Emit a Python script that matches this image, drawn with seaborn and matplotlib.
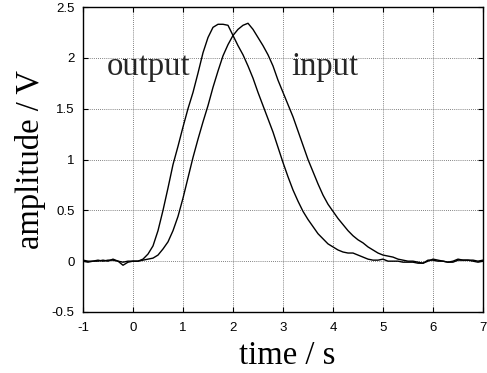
import numpy as np
import pandas as pd
import matplotlib
matplotlib.use("Agg")
import matplotlib.pyplot as plt
import seaborn as sns

time_s = [-1.0, -0.9, -0.8, -0.7, -0.6, -0.5, -0.4, -0.3, -0.2, -0.1,
          0.0, 0.1, 0.2, 0.3, 0.4, 0.5, 0.6, 0.7, 0.8, 0.9,
          1.0, 1.1, 1.2, 1.3, 1.4, 1.5, 1.6, 1.7, 1.8, 1.9,
          2.0, 2.1, 2.2, 2.3, 2.4, 2.5, 2.6, 2.7, 2.8, 2.9,
          3.0, 3.1, 3.2, 3.3, 3.4, 3.5, 3.6, 3.7, 3.8, 3.9,
          4.0, 4.1, 4.2, 4.3, 4.4, 4.5, 4.6, 4.7, 4.8, 4.9,
          5.0, 5.1, 5.2, 5.3, 5.4, 5.5, 5.6, 5.7, 5.8, 5.9,
          6.0, 6.1, 6.2, 6.3, 6.4, 6.5, 6.6, 6.7, 6.8, 6.9, 7.0]

output_v = [0.00, -0.01, 0.00, 0.01, 0.00, 0.01, 0.01, 0.00, -0.01, 0.00,
            0.00, 0.00, 0.02, 0.07, 0.15, 0.30, 0.50, 0.72, 0.95, 1.13,
            1.32, 1.50, 1.66, 1.85, 2.05, 2.20, 2.30, 2.33, 2.33, 2.32,
            2.22, 2.12, 2.03, 1.92, 1.80, 1.66, 1.53, 1.40, 1.27, 1.12,
            0.97, 0.83, 0.70, 0.59, 0.49, 0.41, 0.34, 0.27, 0.22, 0.17,
            0.14, 0.11, 0.09, 0.08, 0.08, 0.06, 0.04, 0.02, 0.01, 0.01,
            0.02, 0.00, 0.00, 0.00, -0.01, -0.01, -0.01, -0.02, -0.02, 0.01,
            0.01, 0.00, 0.00, -0.01, -0.01, 0.01, 0.01, 0.01, 0.00, -0.01, 0.00]

input_v = [0.01, 0.00, 0.00, 0.00, 0.01, 0.00, 0.02, 0.00, -0.04, -0.01,
           0.00, 0.00, 0.01, 0.02, 0.03, 0.06, 0.12, 0.19, 0.30, 0.44,
           0.62, 0.82, 1.02, 1.20, 1.37, 1.53, 1.71, 1.87, 2.02, 2.13,
           2.22, 2.28, 2.32, 2.34, 2.28, 2.20, 2.12, 2.03, 1.92, 1.78,
           1.66, 1.54, 1.42, 1.28, 1.14, 1.00, 0.88, 0.76, 0.65, 0.56,
           0.49, 0.42, 0.36, 0.30, 0.25, 0.21, 0.18, 0.14, 0.11, 0.08,
           0.06, 0.05, 0.04, 0.02, 0.01, 0.00, 0.00, -0.01, -0.02, 0.00,
           0.02, 0.01, 0.00, -0.01, 0.00, 0.02, 0.01, 0.01, 0.01, 0.00, 0.01]

x_ticks = [-1, 0, 1, 2, 3, 4, 5, 6, 7]
x_tick_labels = ["-1", "0", "1", "2", "3", "4", "5", "6", "7"]
y_ticks = [-0.5, 0, 0.5, 1, 1.5, 2, 2.5]
y_tick_labels = ["-0.5", "0", "0.5", "1", "1.5", "2", "2.5"]

df = pd.DataFrame({
    "time": time_s * 2,
    "amplitude": output_v + input_v,
    "signal": ["output"] * len(output_v) + ["input"] * len(input_v),
})

sns.set_theme(style="white")
plt.rcParams["font.family"] = ["Liberation Sans", "DejaVu Sans"]

fig = plt.figure(figsize=(4.87, 3.73), dpi=100)
ax = fig.add_axes([83 / 487, 61 / 373, 400 / 487, 305 / 373])

sns.lineplot(data=df, x="time", y="amplitude", hue="signal",
             palette={"output": "black", "input": "black"},
             legend=False, linewidth=1.0, ax=ax, estimator=None, sort=False)

ax.set_xlim(-1, 7)
ax.set_ylim(-0.5, 2.5)
ax.set_xticks(x_ticks)
ax.set_xticklabels(x_tick_labels)
ax.set_yticks(y_ticks)
ax.set_yticklabels(y_tick_labels)

ax.grid(True, color="0.35", linestyle=(0, (1, 1.5)), linewidth=0.6)
ax.set_axisbelow(True)
for sp in ax.spines.values():
    sp.set_color("black")
    sp.set_linewidth(1.0)
    sp.set_visible(True)

ax.tick_params(axis="both", direction="in", length=3.5, width=0.8, color="black",
               top=True, right=True, bottom=True, left=True,
               labelsize=9.5, labelcolor="black")
ax.tick_params(axis="x", pad=7)
ax.tick_params(axis="y", pad=6)

serif = ["Liberation Serif", "DejaVu Serif"]
ax.set_xlabel("time / s", fontsize=23.5, family=serif, color="black", labelpad=2)
ax.xaxis.set_label_coords(0.51, -0.092, transform=ax.transAxes)
ax.xaxis.label.set_va("top")
ax.set_ylabel("amplitude / V", fontsize=23.5, family=serif, color="black", labelpad=4)

ax.text(-0.52, 1.83, "output", fontsize=23.5, family=serif, ha="left", va="baseline")
ax.text(3.17, 1.83, "input", fontsize=23.5, family=serif, ha="left", va="baseline")

fig.savefig("out.png", dpi=100)
